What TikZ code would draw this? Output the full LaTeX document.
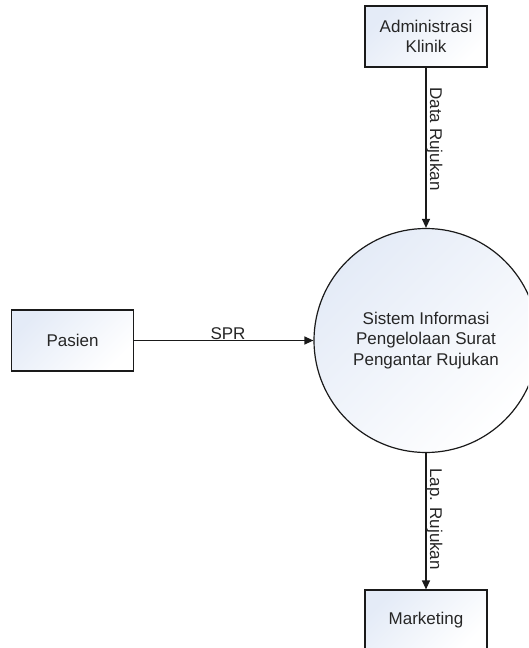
\documentclass[tikz,border=0pt]{standalone}
\usepackage{fontspec}
\setmainfont{Liberation Sans}
\usetikzlibrary{arrows.meta}
\definecolor{boxtint}{HTML}{E4EBF7}
\definecolor{edge}{HTML}{1A1A1A}
\begin{document}
\begin{tikzpicture}[x=1pt,y=-1pt,
  every node/.style={font=\fontsize{17}{20.5}\selectfont, text=black!85},
  entity/.style={draw=edge, line width=1.2pt, top color=boxtint, bottom color=white,
    shading angle=45, minimum width=122pt, minimum height=61pt, inner sep=0pt,
    align=center},
  process/.style={draw=edge, circle, line width=1.2pt, top color=boxtint, bottom color=white,
    shading angle=45, minimum size=224pt, inner sep=0pt, align=center},
  flow/.style={draw=edge, line width=1.2pt, -{Triangle[length=9pt,width=8pt]}},
  flowlabel/.style={inner sep=1pt}
]
\path[use as bounding box, clip] (0,0) rectangle (528,648);

\node[process] (sys) at (426,340.5) {Sistem Informasi\\Pengelolaan Surat\\Pengantar Rujukan};
\node[entity] (admin) at (426,36.5) {Administrasi\\Klinik};
\node[entity] (pasien) at (72.5,340.5) {Pasien};
\node[entity] (mkt) at (426,620.5) {Marketing};

\draw[flow] (admin) -- (sys);
\draw[flow] (pasien) -- (sys);
\draw[flow] (sys) -- (mkt);

\node[flowlabel, anchor=south] (lspr) at (228,341) {SPR};
\node[flowlabel, rotate=-90] (ldata) at (434.5,139) {Data Rujukan};
\node[flowlabel, rotate=-90] (llap) at (434.5,519) {Lap. Rujukan};
\end{tikzpicture}
\end{document}
